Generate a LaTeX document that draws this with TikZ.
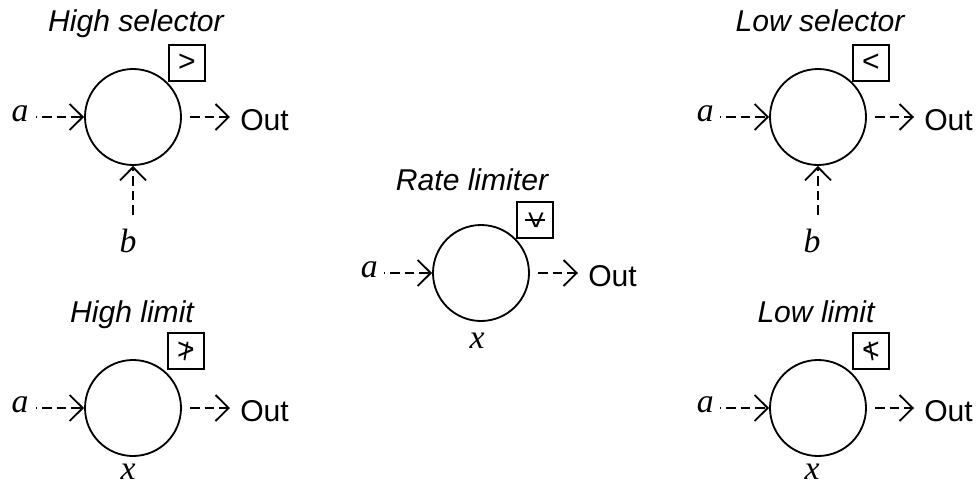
\documentclass[tikz,border=0pt]{standalone}
\usepackage{fontspec}
\setmainfont{Liberation Sans}
\newfontfamily\mathserif[ItalicFont={Liberation Serif Italic}]{Liberation Serif}
\usetikzlibrary{arrows.meta}
\begin{document}
\begin{tikzpicture}[
        >={Straight Barb[length=0.33cm,width=0.65cm]},
        func/.style={
            draw, circle, line width=1.3pt, 
            minimum size=2.4cm, inner sep=0pt
        },
        tagbox/.style={
            draw, line width=1.3pt, 
            minimum size=0.9cm, inner sep=0pt,
            font=\fontsize{21.4}{24}\selectfont
        },
        sig/.style={->, line width=1.3pt, dash pattern=on 0.24cm off 0.125cm},
        sigout/.style={sig, dash phase=0.24cm, shorten <=0.08cm},
        heading/.style={anchor=base, font=\fontsize{21.4}{24}\selectfont\itshape},
        outlabel/.style={anchor=west, inner xsep=0.25cm, inner ysep=0pt, font=\fontsize{21.4}{24}\selectfont},
        varlabel/.style={inner sep=0pt, font=\fontsize{24}{26}\selectfont\mathserif\itshape},
        crossbar/.style={line width=1.3pt}
    ]
    \useasboundingbox (0,0) rectangle (24.425,12.025);
    
    % 1. High selector
    \node[heading] (hsel_title) at (3.4, 11.225) {High selector};
    \node[func] (hsel) at (3.325, 9.1) {};
    \node[tagbox] (hsel_tag) at (4.675, 10.45) {>};
    \node[varlabel] (hsel_a) at (0.5, 9.18) {a};
    \node[varlabel] (hsel_b) at (3.2, 6.0) {b};
    \node[outlabel] (hsel_out) at (5.75, 9.01) {Out};
    \coordinate (hsel_a_end) at (0.9, 9.1);
    \coordinate (hsel_b_end) at (3.325, 6.65);
    \draw[sig, dash phase=0.21cm] (hsel_a_end) -- (hsel.west);
    \draw[sig] (hsel_b_end) -- (hsel.south);
    \draw[sigout] (hsel.east) -- (hsel.east -| hsel_out.west);
    
    % 2. High limit
    \node[heading] (hlim_title) at (3.3, 3.975) {High limit};
    \node[func] (hlim) at (3.325, 1.825) {};
    \node[tagbox] (hlim_tag) at (4.65, 3.25) {>};
    \node[varlabel] (hlim_a) at (0.5, 1.91) {a};
    \node[varlabel] (hlim_x) at (3.2, 0.23) {x};
    \node[outlabel] (hlim_out) at (5.75, 1.74) {Out};
    \coordinate (hlim_a_end) at (0.9, 1.825);
    \draw[sig, dash phase=0.21cm] (hlim_a_end) -- (hlim.west);
    \draw[sigout] (hlim.east) -- (hlim.east -| hlim_out.west);
    \draw[crossbar] ([xshift=0.04cm,yshift=0.23cm]hlim_tag.center) -- ([xshift=-0.04cm,yshift=-0.23cm]hlim_tag.center);
    
    % 3. Rate limiter
    \node[heading] (rate_title) at (11.8, 7.275) {Rate limiter};
    \node[func] (rate) at (12.025, 5.2) {};
    \node[tagbox] (rate_tag) at (13.375, 6.525) {\rotatebox{-90}{>}};
    \node[varlabel] (rate_a) at (9.23, 5.28) {a};
    \node[varlabel] (rate_x) at (11.925, 3.5) {x};
    \node[outlabel] (rate_out) at (14.45, 5.11) {Out};
    \coordinate (rate_a_end) at (9.6, 5.2);
    \draw[sig, dash phase=0.21cm] (rate_a_end) -- (rate.west);
    \draw[sigout] (rate.east) -- (rate.east -| rate_out.west);
    \draw[crossbar] ([xshift=-0.25cm]rate_tag.center) -- ([xshift=0.25cm]rate_tag.center);
    
    % 4. Low selector
    \node[heading] (lsel_title) at (20.5, 11.225) {Low selector};
    \node[func] (lsel) at (20.45, 9.1) {};
    \node[tagbox] (lsel_tag) at (21.775, 10.45) {<};
    \node[varlabel] (lsel_a) at (17.63, 9.18) {a};
    \node[varlabel] (lsel_b) at (20.3, 6.0) {b};
    \node[outlabel] (lsel_out) at (22.85, 9.01) {Out};
    \coordinate (lsel_a_end) at (18.0, 9.1);
    \coordinate (lsel_b_end) at (20.45, 6.65);
    \draw[sig, dash phase=0.21cm] (lsel_a_end) -- (lsel.west);
    \draw[sig] (lsel_b_end) -- (lsel.south);
    \draw[sigout] (lsel.east) -- (lsel.east -| lsel_out.west);
    
    % 5. Low limit
    \node[heading] (llim_title) at (20.4, 3.975) {Low limit};
    \node[func] (llim) at (20.45, 1.825) {};
    \node[tagbox] (llim_tag) at (21.775, 3.25) {<};
    \node[varlabel] (llim_a) at (17.63, 1.91) {a};
    \node[varlabel] (llim_x) at (20.3, 0.23) {x};
    \node[outlabel] (llim_out) at (22.85, 1.74) {Out};
    \coordinate (llim_a_end) at (18.0, 1.825);
    \draw[sig, dash phase=0.21cm] (llim_a_end) -- (llim.west);
    \draw[sigout] (llim.east) -- (llim.east -| llim_out.west);
    \draw[crossbar] ([xshift=-0.04cm,yshift=0.23cm]llim_tag.center) -- ([xshift=0.04cm,yshift=-0.23cm]llim_tag.center);
    
    \end{tikzpicture}
\end{document}
